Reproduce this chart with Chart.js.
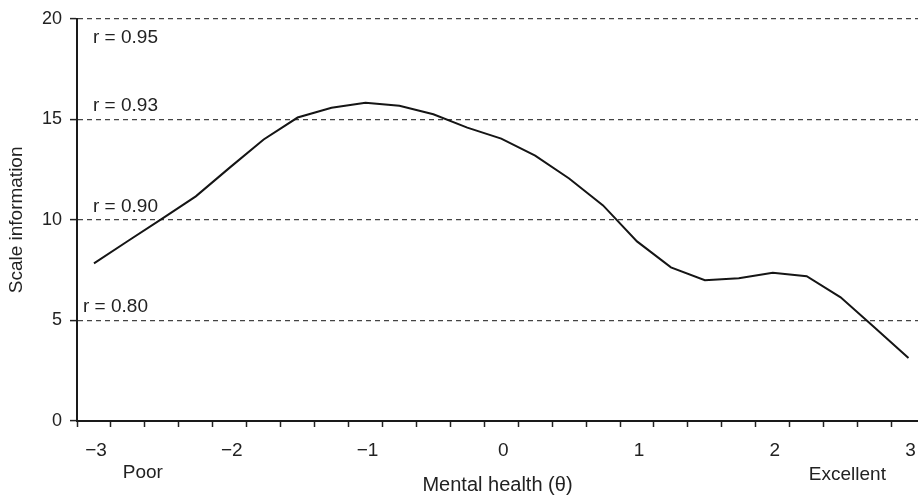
<!DOCTYPE html>
<html>
<head>
<meta charset="utf-8">
<script src="https://cdn.jsdelivr.net/npm/chart.js@4/dist/chart.umd.min.js"></script>
<style>
  html, body { margin: 0; padding: 0; background: #fff; }
  #wrap { width: 918px; height: 497px; position: relative; }
</style>
</head>
<body>
<div id="wrap"><canvas id="infoChart"></canvas></div>
<script>
"use strict";
// theta points and scale information
const thetaValues = [-3, -2.75, -2.5, -2.25, -2, -1.75, -1.5, -1.25, -1, -0.75, -0.5, -0.25,
    0, 0.25, 0.5, 0.75, 1, 1.25, 1.5, 1.75, 2, 2.25, 2.5, 2.75, 3];
const information = [7.84, 8.95, 10.05, 11.17, 12.6, 14.0, 15.09, 15.58, 15.83, 15.68, 15.25, 14.59,
    14.04, 13.2, 12.06, 10.72, 8.93, 7.64, 7.0, 7.1, 7.37, 7.2, 6.15, 4.65, 3.13];

// x axis: labelled values and the minor tick marks between categories
const xLabelValues = [-3, -2, -1, 0, 1, 2, 3];
const xMarkValues = [-3.125, -2.875, -2.625, -2.375, -2.125, -1.875, -1.625, -1.375, -1.125,
    -0.875, -0.625, -0.375, -0.125, 0.125, 0.375, 0.625, 0.875, 1.125, 1.375, 1.625, 1.875,
    2.125, 2.375, 2.625, 2.875];
const yTickValues = [0, 5, 10, 15, 20];

// reliability reference lines
const rLevels = [5, 10, 15, 20];
const rLabels = ["r = 0.80", "r = 0.90", "r = 0.93", "r = 0.95"];

const endLabels = ["Poor", "Excellent"];

const FONT = "'Liberation Sans', Arial, Helvetica, sans-serif";
const INK = "#222";

const isLabel = v => xLabelValues.includes(v);
const fmt = v => (v < 0 ? "\u2212" + Math.abs(v) : String(v));

const refLabels = {
    id: "refLabels",
    afterDraw(chart)
    {
        const { ctx, chartArea: ca, scales: { x, y } } = chart;
        ctx.save();
        ctx.fillStyle = INK;
        ctx.font = `19px ${FONT}`;
        ctx.textAlign = "left";
        rLevels.forEach((lv, i) =>
        {
            const py = y.getPixelForValue(lv);
            const top = lv === 20;
            ctx.textBaseline = top ? "top" : "bottom";
            const dx = lv === 5 ? 6 : 16;
            ctx.fillText(rLabels[i], ca.left + dx, top ? py + 9 : py - 4);
        });
        ctx.textAlign = "center";
        ctx.textBaseline = "middle";
        ctx.fillText(endLabels[0], x.getPixelForValue(-2.64), ca.bottom + 52);
        ctx.fillText(endLabels[1], x.getPixelForValue(2.55), ca.bottom + 54);
        ctx.restore();
    }
};

new Chart(document.getElementById("infoChart"), {
    type: "line",
    data: {
        datasets: [{
            data: thetaValues.map((t, i) => ({ x: t, y: information[i] })),
            borderColor: "#151515",
            borderWidth: 2,
            pointRadius: 0,
            tension: 0,
            fill: false
        }]
    },
    options: {
        responsive: true,
        maintainAspectRatio: false,
        animation: false,
        layout: { padding: { top: 18, right: 0, bottom: 0, left: 0 } },
        plugins: { legend: { display: false }, tooltip: { enabled: false } },
        scales: {
            x: {
                type: "linear",
                min: -3.125,
                max: 3.07,
                afterBuildTicks: s => { s.ticks = [...xMarkValues, ...xLabelValues].sort((a, b) => a - b).map(v => ({ value: v })); },
                afterFit: s => { s.height = 76; s.paddingLeft = 0; s.paddingRight = 0; },
                ticks: {
                    autoSkip: false,
                    maxRotation: 0,
                    padding: 12,
                    labelOffset: 2,
                    color: INK,
                    font: { family: FONT, size: 19 }
                    , callback: v => (isLabel(v) ? fmt(v) : "")
                },
                grid: {
                    drawOnChartArea: false,
                    tickLength: 6,
                    tickWidth: 1.5,
                    tickColor: c => (c.tick && isLabel(c.tick.value) ? "rgba(0,0,0,0)" : "#222")
                },
                border: { display: true, color: "#1a1a1a", width: 2 },
                title: {
                    display: true,
                    text: "Mental health (\u03b8)",
                    color: INK,
                    font: { family: FONT, size: 20 },
                    padding: { top: 1, bottom: 0 }
                }
            },
            y: {
                min: 0,
                max: 20,
                afterBuildTicks: s => { s.ticks = yTickValues.map(v => ({ value: v })); },
                afterFit: s => { s.width = 77; },
                ticks: {
                    padding: 8,
                    color: INK,
                    font: { family: FONT, size: 18 }
                },
                grid: {
                    color: c => (c.tick && c.tick.value === 0 ? "rgba(0,0,0,0)" : "#444"),
                    lineWidth: 1.2,
                    tickLength: 7,
                    tickWidth: 1.5,
                    tickColor: "#222"
                },
                border: { display: true, color: "#1a1a1a", width: 2, dash: [5, 4] },
                title: {
                    display: true,
                    text: "Scale information",
                    color: INK,
                    font: { family: FONT, size: 19 },
                    padding: { top: 5, bottom: 0 }
                }
            }
        }
    },
    plugins: [refLabels]
});
</script>
</body>
</html>
